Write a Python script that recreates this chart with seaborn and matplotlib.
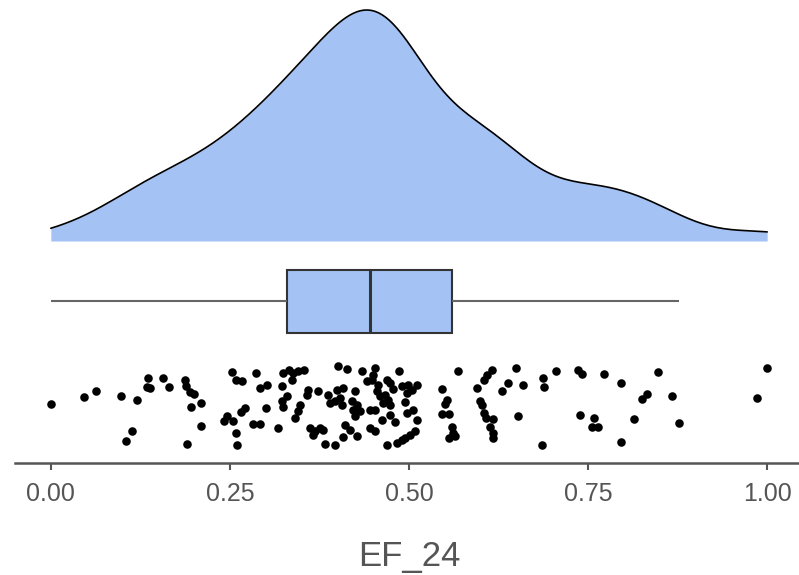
import numpy as np
import pandas as pd
import matplotlib
matplotlib.use("Agg")
import matplotlib.pyplot as plt
import seaborn as sns

# values read off the strip of points (left to right, roughly by region)
ef_24 = [
    0.000, 0.047, 0.063, 0.098, 0.120, 0.135, 0.134, 0.139, 0.156, 0.165,
    0.188, 0.189, 0.194, 0.200, 0.209, 0.196, 0.114, 0.105, 0.209, 0.190,
    0.242, 0.246, 0.254, 0.253, 0.258, 0.267, 0.286, 0.292, 0.302, 0.324,
    0.323, 0.330, 0.323, 0.324, 0.300, 0.271, 0.265, 0.282, 0.292, 0.317,
    0.258, 0.260, 0.332,
    0.338, 0.345, 0.353, 0.337, 0.359, 0.358, 0.373, 0.348, 0.345, 0.341,
    0.387, 0.390, 0.397, 0.404, 0.399, 0.408, 0.406, 0.401, 0.413, 0.362,
    0.369, 0.376, 0.380, 0.366, 0.383, 0.397, 0.408, 0.418,
    0.434, 0.453, 0.450, 0.441, 0.448, 0.425, 0.455, 0.469, 0.473, 0.486,
    0.490, 0.499, 0.504, 0.497, 0.511, 0.420, 0.427, 0.422, 0.459, 0.466,
    0.471, 0.473, 0.464, 0.446, 0.453, 0.473, 0.432, 0.425, 0.497, 0.511,
    0.411, 0.427, 0.446, 0.453, 0.469, 0.483, 0.490, 0.494, 0.501, 0.508,
    0.457, 0.478, 0.462, 0.480, 0.495, 0.505,
    0.568, 0.546, 0.553, 0.550, 0.546, 0.556, 0.560, 0.561, 0.564, 0.556,
    0.616, 0.609, 0.605, 0.595, 0.599, 0.602, 0.605, 0.608, 0.617, 0.613,
    0.617, 0.617,
    0.630, 0.638, 0.649, 0.659, 0.652, 0.687, 0.689, 0.686, 0.705, 0.736,
    0.742, 0.739, 0.758, 0.756, 0.764,
    0.772, 0.796, 0.848, 0.832, 0.825, 0.867, 0.814, 0.796, 0.877, 1.000,
    0.986,
]

# vertical spread of each point inside the strip (0 = top, 1 = bottom)
jitter = [
    0.49, 0.40, 0.33, 0.39, 0.44, 0.16, 0.28, 0.29, 0.16, 0.28,
    0.19, 0.26, 0.34, 0.36, 0.48, 0.53, 0.83, 0.95, 0.76, 0.99,
    0.70, 0.64, 0.70, 0.09, 0.19, 0.20, 0.10, 0.29, 0.25, 0.10,
    0.26, 0.39, 0.45, 0.53, 0.54, 0.54, 0.59, 0.74, 0.74, 0.79,
    0.85, 1.00, 0.06,
    0.10, 0.08, 0.06, 0.19, 0.31, 0.38, 0.33, 0.50, 0.58, 0.66,
    0.38, 0.48, 0.45, 0.41, 0.31, 0.29, 0.50, 0.01, 0.05, 0.79,
    0.83, 0.79, 0.81, 0.88, 0.99, 1.00, 0.90, 0.81,
    0.08, 0.04, 0.12, 0.20, 0.19, 0.33, 0.33, 0.19, 0.22, 0.08,
    0.26, 0.25, 0.31, 0.35, 0.25, 0.45, 0.50, 0.56, 0.39, 0.38,
    0.44, 0.50, 0.48, 0.56, 0.56, 0.62, 0.58, 0.64, 0.60, 0.69,
    0.75, 0.89, 0.79, 0.83, 1.00, 0.98, 0.94, 0.91, 0.88, 0.83,
    0.25, 0.30, 0.69, 0.71, 0.46, 0.56,
    0.08, 0.30, 0.44, 0.49, 0.61, 0.61, 0.78, 0.85, 0.89, 0.91,
    0.06, 0.12, 0.19, 0.29, 0.45, 0.50, 0.60, 0.66, 0.68, 0.78,
    0.85, 0.91,
    0.33, 0.22, 0.04, 0.25, 0.64, 0.16, 0.28, 1.00, 0.08, 0.06,
    0.11, 0.62, 0.66, 0.78, 0.78,
    0.11, 0.22, 0.09, 0.36, 0.42, 0.39, 0.68, 0.96, 0.72, 0.04,
    0.41,
]

x_ticks = [0.00, 0.25, 0.50, 0.75, 1.00]
x_label = "EF_24"

df = pd.DataFrame({"EF_24": ef_24, "jitter": jitter})

sns.set_theme(style="white")
plt.rcParams["font.family"] = ["Liberation Sans", "DejaVu Sans"]

fill = "#a4c2f4"
grey = "#555555"
W, H = 799, 575

fig = plt.figure(figsize=(W / 100, H / 100), dpi=100)


def px_axes(left, top, right, bottom):
    return fig.add_axes([left / W, 1 - bottom / H, (right - left) / W, (bottom - top) / H])


ax_kde = px_axes(15, 10, 803, 241)
ax = px_axes(15, 241, 803, 463)

# ggplot-like bandwidth (nrd0) instead of scott
x = df["EF_24"].to_numpy()
n = len(x)
sd = x.std(ddof=1)
q75, q25 = np.percentile(x, [75, 25])
bw_nrd0 = 0.9 * min(sd, (q75 - q25) / 1.34) * n ** -0.2
bw_adj = bw_nrd0 / (sd * n ** -0.2)

# density cloud
sns.kdeplot(data=df, x="EF_24", fill=True, color=fill, alpha=1, linewidth=0,
            cut=0, bw_adjust=bw_adj, ax=ax_kde)
sns.kdeplot(data=df, x="EF_24", color="black", linewidth=1.2,
            cut=0, bw_adjust=bw_adj, ax=ax_kde)
peak = ax_kde.lines[-1].get_ydata().max()
ax_kde.set_ylim(0, peak)
ax_kde.set_xlim(-0.05, 1.05)
ax_kde.lines[-1].set_clip_on(False)
ax_kde.axis("off")

# box
sns.boxplot(data=df, x="EF_24", ax=ax, width=0.8, color=fill, saturation=1,
            showfliers=False, showcaps=False, linecolor="#333333", linewidth=1.5,
            medianprops=dict(linewidth=2.2, color="#333333"),
            whiskerprops=dict(color="#666666", linewidth=1.5))

# rain (points)
px_per_unit = 31.5 / 0.4
strip_top = (365 - 301.5) / px_per_unit
strip_h = 80 / px_per_unit
sns.scatterplot(x=df["EF_24"], y=strip_top + df["jitter"] * strip_h,
                color="black", s=38, linewidth=0, ax=ax)

ax.set_ylim((463 - 301.5) / px_per_unit, -(301.5 - 241) / px_per_unit)
ax.set_xlim(-0.05, 1.05)
ax.set_yticks([])
ax.set_ylabel("")
ax.set_xticks(x_ticks)
ax.set_xticklabels([f"{t:.2f}" for t in x_ticks])
for side in ["left", "top", "right"]:
    ax.spines[side].set_visible(False)
ax.spines["bottom"].set_color(grey)
ax.spines["bottom"].set_linewidth(1.8)
ax.tick_params(axis="x", direction="out", length=5, width=1.5, color=grey,
               labelcolor=grey, labelsize=18, pad=9, bottom=True)
ax.set_xlabel(x_label, fontsize=25, color=grey, labelpad=24)
ax.set_facecolor("none")

fig.savefig("out.png", dpi=100)
